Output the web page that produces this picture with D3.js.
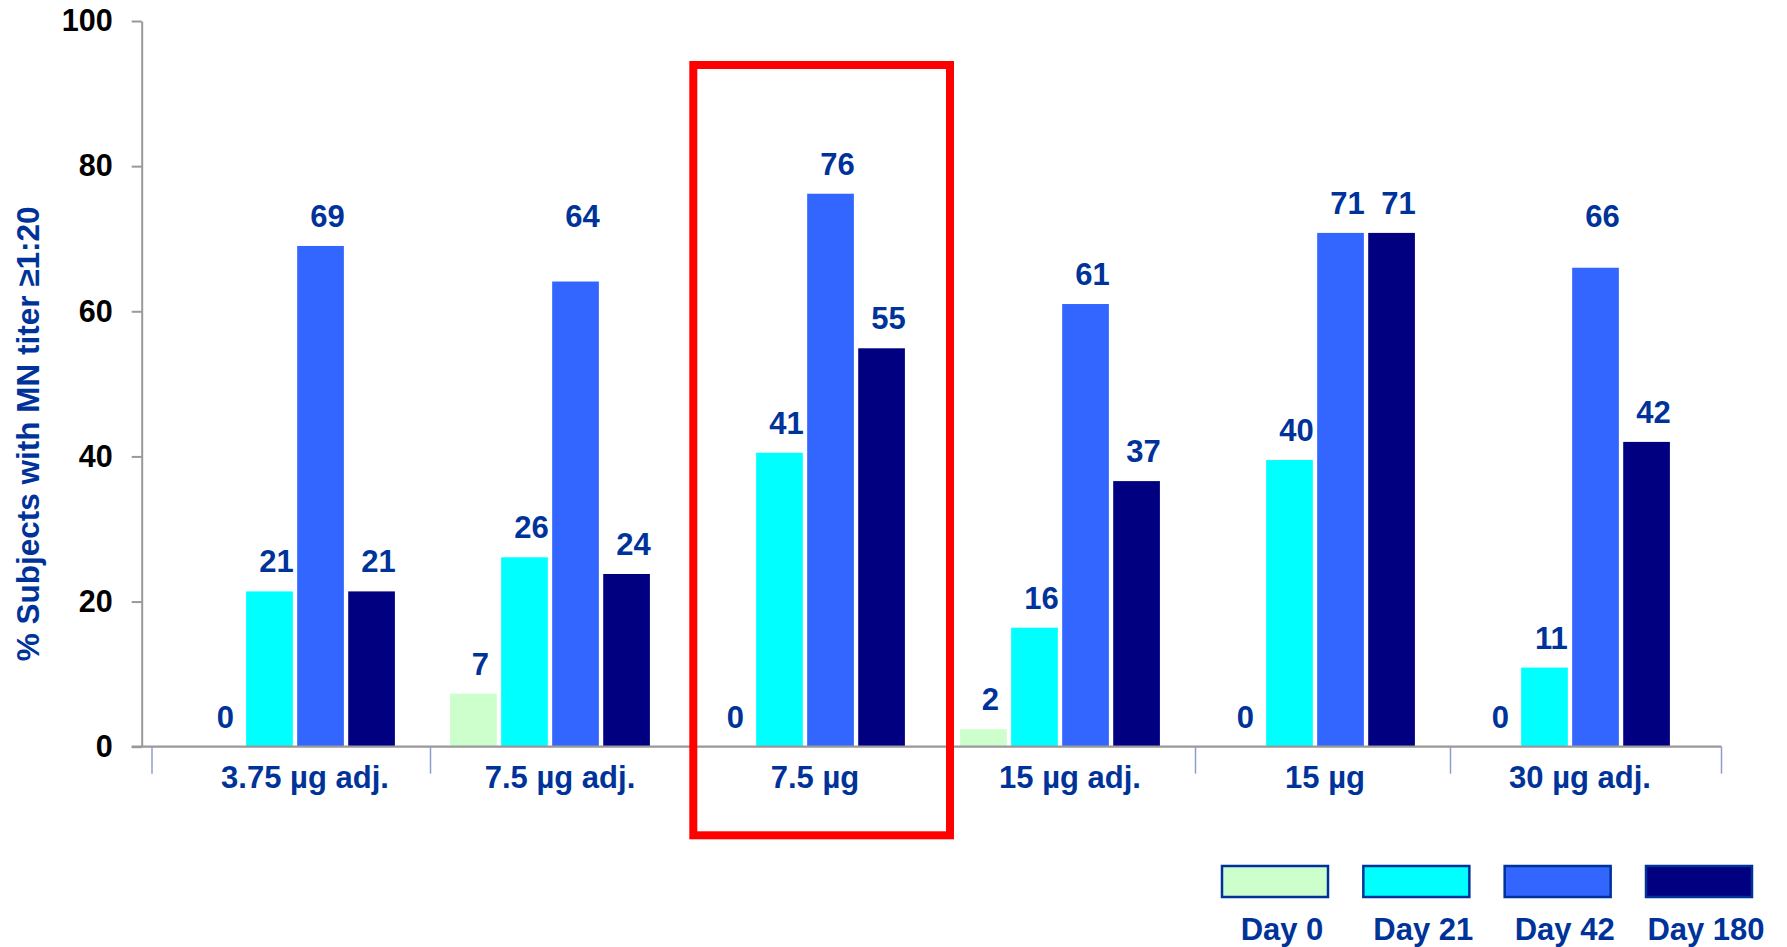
<!DOCTYPE html>
<html>
<head>
<meta charset="utf-8">
<script src="https://cdn.jsdelivr.net/npm/d3@7/dist/d3.min.js"></script>
<style>
  html, body { margin: 0; padding: 0; background: #fff; }
  svg { display: block; }
  text { font-family: "Liberation Sans", Arial, sans-serif; font-weight: bold; }
</style>
</head>
<body>
<svg id="chart" width="1787" height="947"></svg>
<script>
// ---- data ----
const categories = ["3.75 µg adj.", "7.5 µg adj.", "7.5 µg", "15 µg adj.", "15 µg", "30 µg adj."];
const seriesNames = ["Day 0", "Day 21", "Day 42", "Day 180"];
const day0   = [0, 7.3, 0, 2.4, 0, 0];
const day21  = [21.4, 26.1, 40.5, 16.4, 39.5, 10.9];
const day42  = [69, 64.1, 76.2, 61, 70.8, 66];
const day180 = [21.4, 23.8, 54.9, 36.6, 70.8, 42];
// value level at which the Day 42 labels sit (some were lifted in the original)
const day42LabelLevel = [69, 69, 76.2, 61, 70.8, 69];
const yTicks = [0, 20, 40, 60, 80, 100];
const yTitle = "% Subjects with MN titer \u22651:20";
const highlighted = "7.5 µg";
const seriesColors = ["#CCFFCC", "#00FFFF", "#3366FF", "#000080"];

const seriesValues = [day0, day21, day42, day180];
const labelLevels = [day0, day21, day42LabelLevel, day180];
const TEXT_BLUE = "#003399";

const svg = d3.select("#chart");

// ---- scales ----
const x = d3.scaleBand().domain(categories).range([167.5, 1697.5]).padding(0);
const xInner = d3.scaleBand().domain(seriesNames).range([27.6, 227.4]).paddingInner(0.085).paddingOuter(0);
const y = d3.scaleLinear().domain([0, 100]).range([746.7, 21]);

const axisLeftX = 141.7;

// highlight box geometry (derived from scale)
const hbX = x(highlighted) + 15.8;
const hbW = x.bandwidth() + 1.7;

// ---- bars ----
const groups = svg.append("g").selectAll("g")
  .data(categories)
  .join("g")
  .attr("transform", d => `translate(${x(d)},0)`);

const cells = groups.selectAll("g.cell")
  .data((c, i) => seriesNames.map((s, j) => ({ s, j, v: seriesValues[j][i], lv: labelLevels[j][i] })))
  .join("g").attr("class", "cell");

cells.filter(d => d.v > 0).append("rect")
  .attr("x", d => xInner(d.s))
  .attr("width", xInner.bandwidth())
  .attr("y", d => y(d.v))
  .attr("height", d => y(0) - y(d.v))
  .attr("fill", d => seriesColors[d.j]);

cells.append("text")
  .attr("x", d => xInner(d.s) + xInner.bandwidth() / 2 + 7)
  .attr("y", d => y(d.lv) - 19)
  .attr("text-anchor", "middle")
  .attr("font-size", 31)
  .attr("fill", TEXT_BLUE)
  .text(d => Math.round(d.v));

// ---- y axis ----
const yAxis = d3.axisLeft(y).tickValues(yTicks).tickSize(10).tickSizeOuter(0).tickPadding(19);
const gy = svg.append("g").attr("transform", `translate(${axisLeftX},0)`).call(yAxis);
gy.select(".domain").attr("stroke", "#999999").attr("stroke-width", 2);
gy.selectAll(".tick line").attr("stroke", "#999999").attr("stroke-width", 2);
gy.selectAll(".tick text")
  .attr("font-size", 30.5)
  .attr("fill", "#000")
  .attr("font-family", "Liberation Sans, Arial, sans-serif")
  .attr("font-weight", "bold");

// ---- x baseline & category separators ----
const xStart = axisLeftX - 10;
const xEnd = x.range()[1] + 24;
svg.append("line")
  .attr("x1", xStart).attr("x2", xEnd)
  .attr("y1", y(0)).attr("y2", y(0))
  .attr("stroke", "#999999").attr("stroke-width", 2.2);

const hi = categories.indexOf(highlighted);
const innerSeps = categories.slice(1).map((c, k) => {
  const idx = k + 1; // boundary to the left of category idx
  if (idx === hi) return hbX;
  if (idx === hi + 1) return hbX + hbW;
  return x(c) + 8;
});
const sepPositions = [x.range()[0] - 15.5].concat(innerSeps).concat([xEnd]);
svg.append("g").selectAll("line")
  .data(sepPositions)
  .join("line")
  .attr("x1", d => d).attr("x2", d => d)
  .attr("y1", y(0)).attr("y2", y(0) + 27)
  .attr("stroke", "#8c9fcc").attr("stroke-width", 1.5);

svg.append("g").selectAll("text")
  .data(categories)
  .join("text")
  .attr("x", d => x(d) + x.bandwidth() / 2 + 10)
  .attr("y", 788.3)
  .attr("text-anchor", "middle")
  .attr("font-size", 31)
  .attr("fill", TEXT_BLUE)
  .text(d => d);

// ---- y title ----
svg.append("text")
  .attr("transform", `translate(39,${(y(0) + y(100)) / 2 + 50}) rotate(-90)`)
  .attr("text-anchor", "middle")
  .attr("font-size", 31.5)
  .attr("fill", TEXT_BLUE)
  .text(yTitle);

// ---- highlight box ----
svg.append("rect")
  .attr("x", hbX)
  .attr("y", y(100) + 44)
  .attr("width", hbW)
  .attr("height", 835.3 - (y(100) + 44))
  .attr("fill", "none")
  .attr("stroke", "#FF0000")
  .attr("stroke-width", 8);

// ---- legend ----
const lx = d3.scaleBand().domain(seriesNames).range([1222, 1752]).paddingInner(0.25).paddingOuter(0);
const lg = svg.append("g").selectAll("g")
  .data(seriesNames)
  .join("g");
lg.append("rect")
  .attr("x", d => lx(d))
  .attr("y", 866)
  .attr("width", lx.bandwidth())
  .attr("height", 31)
  .attr("fill", (d, i) => seriesColors[i])
  .attr("stroke", TEXT_BLUE)
  .attr("stroke-width", 2.5);
lg.append("text")
  .attr("x", d => lx(d) + lx.bandwidth() / 2 + 7)
  .attr("y", 940)
  .attr("text-anchor", "middle")
  .attr("font-size", 31)
  .attr("fill", TEXT_BLUE)
  .text(d => d);
</script>
</body>
</html>
